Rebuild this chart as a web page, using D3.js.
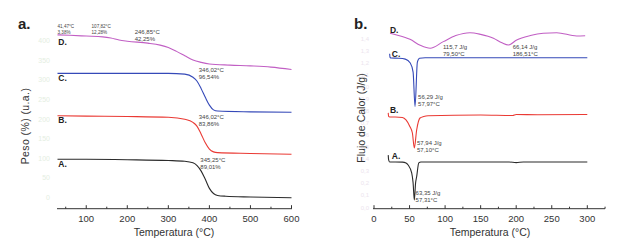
<!DOCTYPE html>
<html>
<head>
<meta charset="utf-8">
<script src="https://cdn.jsdelivr.net/npm/d3@7"></script>
<style>
  body { margin: 0; background: #fff; }
  svg { font-family: "Liberation Sans", Arial, sans-serif; }
</style>
</head>
<body>
<svg width="622" height="246"></svg>
<script>
// ---- panel a: TGA ----
const tgaTicksY = [0, 50, 100, 150, 200, 250, 300, 350, 400];
const tgaTicksX = [100, 200, 300, 400, 500, 600];

const tgaTempA = [30, 100, 200, 300, 340, 360, 370, 380, 390, 400, 410, 420, 440, 500, 600];
const tgaA     = [96, 96, 95, 93, 91, 87, 80, 66, 45, 22, 9, 4, 2, 0, -2];
const tgaTempB = [30, 100, 200, 300, 340, 360, 370, 380, 390, 400, 410, 420, 500, 600];
const tgaB     = [207, 206, 205, 203, 198, 190, 180, 160, 138, 122, 115, 113, 111, 109];
const tgaTempC = [30, 200, 300, 340, 360, 370, 380, 390, 400, 410, 420, 500, 600];
const tgaC     = [315, 315, 315, 313, 305, 295, 276, 254, 234, 222, 219, 217, 216];
const tgaTempD = [30, 60, 100, 140, 160, 180, 200, 250, 280, 300, 320, 340, 360, 380, 400, 450, 500, 550, 600];
const tgaD     = [413, 412, 410, 408, 405, 400, 397, 392, 387, 381, 371, 360, 349, 343, 339, 336, 334, 331, 325];

// ---- panel b: DSC ----
const dscTicksY = ["0,0","0,1","0,2","0,3","0,4","0,5","0,6","0,7","0,8","0,9","1,0","1,1","1,2","1,3","1,4"];
const dscTicksX = [0, 50, 100, 150, 200, 250, 300];

const dscTempA = [20, 20.6, 22, 30, 40, 45, 48, 53, 55, 56.7, 58.5, 60, 63, 66, 80, 190, 200, 210, 300];
const dscA     = [0.43, 0.39, 0.373, 0.373, 0.372, 0.365, 0.348, 0.282, 0.2, 0.058, 0.2, 0.251, 0.365, 0.373, 0.373, 0.373, 0.368, 0.373, 0.373];
const dscTempB = [20, 20.6, 22, 30, 40, 45, 50.6, 54, 56.7, 60, 64.7, 70, 76, 150, 195, 200, 230, 300];
const dscB     = [0.78, 0.75, 0.746, 0.746, 0.742, 0.721, 0.665, 0.613, 0.489, 0.638, 0.737, 0.75, 0.756, 0.762, 0.758, 0.766, 0.764, 0.766];
const dscTempC = [22, 22.6, 24, 35, 44, 51, 55, 57.7, 61, 64, 72, 150, 300];
const dscC     = [1.27, 1.24, 1.234, 1.232, 1.225, 1.193, 1.118, 0.833, 1.2, 1.232, 1.237, 1.237, 1.237];
const dscTempD = [22.5, 32, 50.6, 65, 79, 97.5, 115, 135, 150, 168, 180, 189, 200.7, 220, 238, 257, 285, 297];
const dscD     = [1.439, 1.425, 1.389, 1.34, 1.315, 1.37, 1.42, 1.444, 1.43, 1.398, 1.36, 1.342, 1.384, 1.42, 1.439, 1.444, 1.417, 1.419];

const annotA = [
  { x: 30, y: 430, t: ["41,47°C", "3,38%"], fs: 4.6 },
  { x: 113, y: 430, t: ["107,82°C", "12,28%"], fs: 4.6 },
  { x: 218, y: 416, t: ["246,85°C", "42,25%"], fs: 6 },
  { x: 374, y: 319, t: ["346,02°C", "96,54%"], fs: 6 },
  { x: 374, y: 199, t: ["346,02°C", "83,86%"], fs: 6 },
  { x: 378, y: 90, t: ["345,25°C", "89,01%"], fs: 6 }
];
const annotB = [
  { x: 97, y: 1.31, t: ["115,7 J/g", "79,50°C"] },
  { x: 195, y: 1.31, t: ["66,14 J/g", "186,51°C"] },
  { x: 62, y: 0.895, t: ["56,29 J/g", "57,97°C"] },
  { x: 60.5, y: 0.515, t: ["57,94 J/g", "57,10°C"] },
  { x: 58.5, y: 0.1, t: ["63,35 J/g", "57,31°C"] }
];

const svg = d3.select('svg');
const axisColor = '#333';
const txtColor = '#444';

function drawAxis(g, x, yLine, x0, x1, major, minor, labels) {
  g.append('line')
    .attr('x1', x0).attr('x2', x1)
    .attr('y1', yLine).attr('y2', yLine)
    .attr('stroke', axisColor).attr('stroke-width', 1);
  minor.forEach(v => {
    g.append('line')
      .attr('x1', x(v)).attr('x2', x(v))
      .attr('y1', yLine).attr('y2', yLine - 2)
      .attr('stroke', axisColor);
  });
  major.forEach(v => {
    g.append('line')
      .attr('x1', x(v)).attr('x2', x(v))
      .attr('y1', yLine).attr('y2', yLine - 3.5)
      .attr('stroke', axisColor);
    if (labels) {
      g.append('text')
        .attr('x', x(v)).attr('y', yLine + 13)
        .attr('text-anchor', 'middle')
        .attr('font-size', 9.5)
        .attr('fill', '#333')
        .text(v);
    }
  });
}

function drawSeries(g, x, y, temps, vals, color) {
  const pts = temps.map((t, i) => [t, vals[i]]);
  g.append('path')
    .datum(pts)
    .attr('d', d3.line().x(d => x(d[0])).y(d => y(d[1])).curve(d3.curveMonotoneX))
    .attr('fill', 'none')
    .attr('stroke', color)
    .attr('stroke-width', 1.1);
}

// ---------- panel a ----------
const xA = d3.scaleLinear().domain([30, 600]).range([57.5, 291.5]);
const yA = d3.scaleLinear().domain([0, 400]).range([197, 40]);
const gA = svg.append('g');

gA.append('text').attr('x', 18).attr('y', 29)
  .attr('font-size', 15).attr('font-weight', 'bold').attr('fill', '#222').text('a.');

tgaTicksY.forEach(v => {
  gA.append('text').attr('x', 50).attr('y', yA(v) + 3)
    .attr('text-anchor', 'end').attr('font-size', 7)
    .attr('fill', '#e4eee1').text(v);
});

drawAxis(gA, xA, 208.7, 57, 292,
  tgaTicksX, [50, 150, 250, 350, 450, 550], true);

gA.append('text')
  .attr('transform', 'translate(29,126) rotate(-90)')
  .attr('text-anchor', 'middle').attr('font-size', 10.5)
  .attr('letter-spacing', 0.4)
  .attr('fill', '#333').text('Peso (%) (u.a.)');
gA.append('text').attr('x', 174).attr('y', 236)
  .attr('text-anchor', 'middle').attr('font-size', 10.5)
  .attr('fill', '#333').text('Temperatura (°C)');

drawSeries(gA, xA, yA, tgaTempA, tgaA, '#2b2b2b');
drawSeries(gA, xA, yA, tgaTempB, tgaB, '#ea3a34');
drawSeries(gA, xA, yA, tgaTempC, tgaC, '#3549b8');
drawSeries(gA, xA, yA, tgaTempD, tgaD, '#c15fc4');

[['D.', 387], ['C.', 295], ['B.', 188.5], ['A.', 76]].forEach(([s, v]) => {
  gA.append('text').attr('x', xA(32)).attr('y', yA(v))
    .attr('font-size', 8.5).attr('font-weight', 'bold').attr('fill', '#222').text(s);
});

annotA.forEach(a => {
  a.t.forEach((s, i) => {
    gA.append('text').attr('x', xA(a.x)).attr('y', yA(a.y) + i * (a.fs + 1.2))
      .attr('font-size', a.fs).attr('fill', txtColor).text(s);
  });
});

// ---------- panel b ----------
const xB = d3.scaleLinear().domain([0, 300]).range([374, 587.3]);
const yB = d3.scaleLinear().domain([0, 1.4]).range([207, 38]);
const gB = svg.append('g');

gB.append('text').attr('x', 354).attr('y', 29)
  .attr('font-size', 15).attr('font-weight', 'bold').attr('fill', '#222').text('b.');

dscTicksY.forEach((s, i) => {
  gB.append('text').attr('x', 369).attr('y', yB(i / 10) + 2.5)
    .attr('text-anchor', 'end').attr('font-size', 6)
    .attr('fill', '#ece4ee').text(s);
});

drawAxis(gB, xB, 208.7, 373, 605,
  dscTicksX, [25, 75, 125, 175, 225, 275, 325], true);

gB.append('text')
  .attr('transform', 'translate(365,118) rotate(-90)')
  .attr('text-anchor', 'middle').attr('font-size', 10.5)
  .attr('fill', '#333').text('Flujo de Calor (J/g)');
gB.append('text').attr('x', 490).attr('y', 236)
  .attr('text-anchor', 'middle').attr('font-size', 10.5)
  .attr('fill', '#333').text('Temperatura (°C)');

drawSeries(gB, xB, yB, dscTempA, dscA, '#2b2b2b');
drawSeries(gB, xB, yB, dscTempB, dscB, '#ea3a34');
drawSeries(gB, xB, yB, dscTempC, dscC, '#3549b8');
drawSeries(gB, xB, yB, dscTempD, dscD, '#c15fc4');

[['D.', 22.5, 1.445], ['C.', 25, 1.24], ['B.', 22.5, 0.775], ['A.', 25, 0.395]].forEach(([s, t, v]) => {
  gB.append('text').attr('x', xB(t)).attr('y', yB(v))
    .attr('font-size', 8.5).attr('font-weight', 'bold').attr('fill', '#222').text(s);
});

annotB.forEach(a => {
  a.t.forEach((s, i) => {
    gB.append('text').attr('x', xB(a.x)).attr('y', yB(a.y) + i * 7.5)
      .attr('font-size', 6).attr('fill', txtColor).text(s);
  });
});
</script>
</body>
</html>
